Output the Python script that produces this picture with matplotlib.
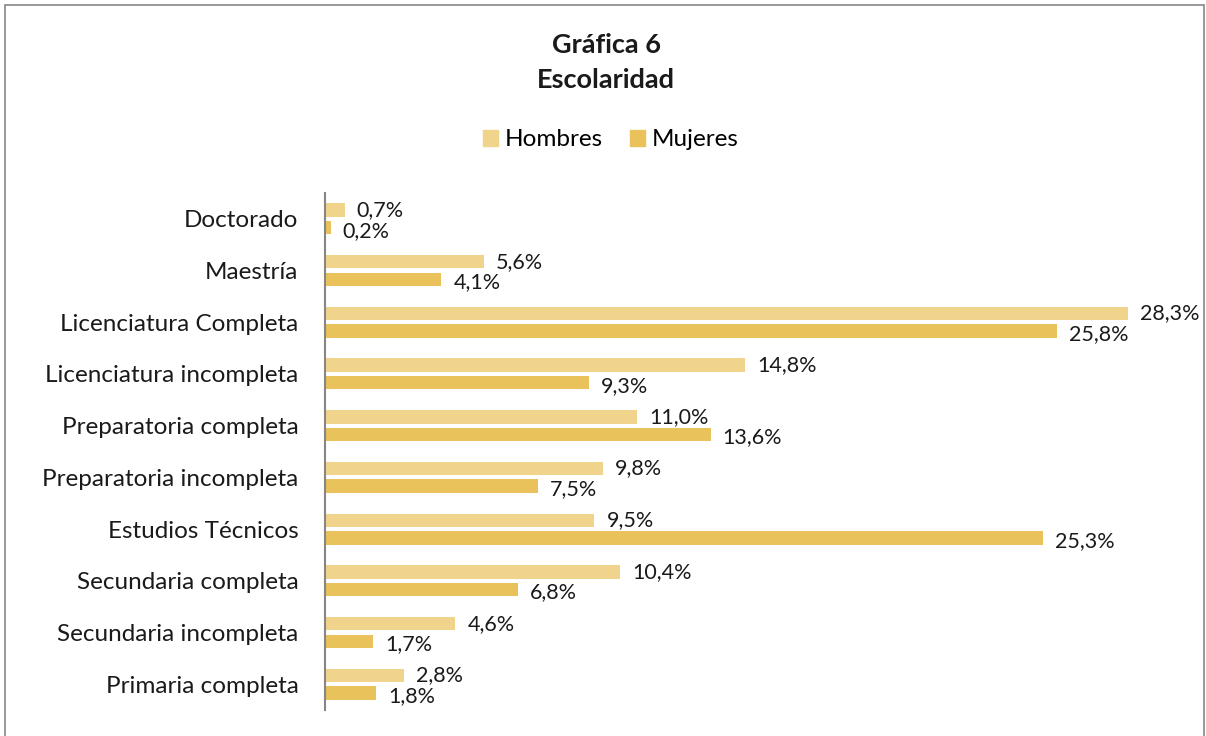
import matplotlib
matplotlib.use("Agg")
import matplotlib.pyplot as plt
from matplotlib.patches import Rectangle, Patch
import numpy as np

categories = ["Primaria completa", "Secundaria incompleta", "Secundaria completa",
              "Estudios Técnicos", "Preparatoria incompleta", "Preparatoria completa",
              "Licenciatura incompleta", "Licenciatura Completa", "Maestría", "Doctorado"]
hombres = [2.8, 4.6, 10.4, 9.5, 9.8, 11.0, 14.8, 28.3, 5.6, 0.7]
mujeres = [1.8, 1.7, 6.8, 25.3, 7.5, 13.6, 9.3, 25.8, 4.1, 0.2]
series_names = ["Hombres", "Mujeres"]
title_lines = ["Gráfica 6", "Escolaridad"]

c_h = "#F0D48C"
c_m = "#E9C25C"

plt.rcParams['font.family'] = ['Lato', 'DejaVu Sans']

fig = plt.figure(figsize=(12.06, 7.36), dpi=100)
W, H = 1206, 736
ax = fig.add_axes([325 / W, 1 - 710 / H, (1176 - 325) / W, (710 - 193) / H])

y = np.arange(len(categories))
off = 0.17
bh = 0.26
ax.barh(y + off, hombres, height=bh, color=c_h, label=series_names[0])
ax.barh(y - off, mujeres, height=bh, color=c_m, label=series_names[1])

def fmt(v):
    return f"{v:.1f}%".replace(".", ",")

for yi, v in zip(y, hombres):
    ax.annotate(fmt(v), (v, yi + off), xytext=(12, 0), textcoords="offset pixels",
                va="center", ha="left", fontsize=15.5, color="#1a1a1a")
for yi, v in zip(y, mujeres):
    ax.annotate(fmt(v), (v, yi - off), xytext=(12, -3), textcoords="offset pixels",
                va="center", ha="left", fontsize=15.5, color="#1a1a1a")

ax.set_xlim(0, 30)
ax.set_ylim(-0.5, len(categories) - 0.5)
ax.set_yticks(y)
ax.set_yticklabels(categories, fontsize=17.5, color="#1a1a1a")
ax.tick_params(axis="y", length=0, pad=19)
ax.set_xticks([])
for s in ["top", "right", "bottom"]:
    ax.spines[s].set_visible(False)
ax.spines["left"].set_color("#868686")
ax.spines["left"].set_linewidth(1.5)

fig.text(606 / W, 1 - 45 / H, title_lines[0], ha="center", va="center",
         fontsize=19.5, fontweight="bold", color="#1a1a1a")
fig.text(606 / W, 1 - 80 / H, title_lines[1], ha="center", va="center",
         fontsize=19.5, fontweight="bold", color="#1a1a1a")

handles = [Patch(color=c_h), Patch(color=c_m)]
fig.legend(handles, series_names, loc="center", bbox_to_anchor=(611 / W, 1 - 140 / H),
           ncol=2, frameon=False, fontsize=17.5, handlelength=0.6, handleheight=0.6,
           handletextpad=0.3, columnspacing=1.1)

fig.add_artist(Rectangle((5 / W, -0.05), (1204 - 5) / W, 1.05 - 5 / H,
                         transform=fig.transFigure, fill=False,
                         edgecolor="#868686", linewidth=1.2))

fig.savefig("out.png", dpi=100)
